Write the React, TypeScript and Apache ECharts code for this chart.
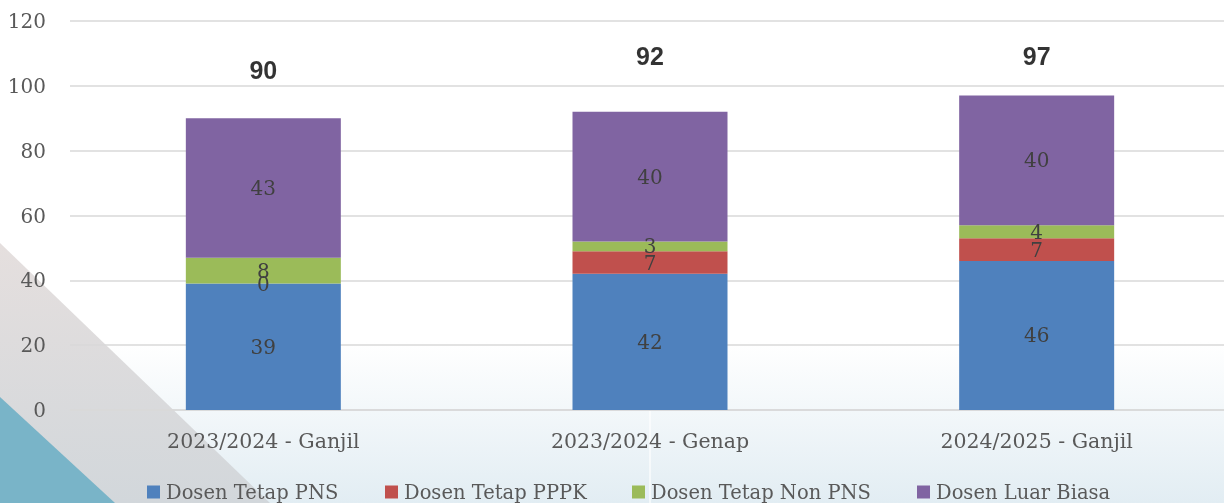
import React, { useEffect, useRef } from "react";
import * as echarts from "echarts";

const categories = ["2023/2024 - Ganjil", "2023/2024 - Genap", "2024/2025 - Ganjil"];
const seriesNames = ["Dosen Tetap PNS", "Dosen Tetap PPPK", "Dosen Tetap Non PNS", "Dosen Luar Biasa"];
const pns = [39, 42, 46];
const pppk = [0, 7, 7];
const nonPns = [8, 3, 4];
const luarBiasa = [43, 40, 40];
const totals = [90, 92, 97];
const yMin = 0;
const yMax = 120;
const yInterval = 20;

const colors = ["#4F81BD", "#C0504D", "#9BBB59", "#8064A2"];
const legendLefts = [147, 385, 632, 917];
const totalLabelDistance = [36, 43, 27];
const serif = "'DejaVu Serif', serif";

export default function App() {
  const ref = useRef<HTMLDivElement>(null);
  useEffect(() => {
    if (!ref.current) return;
    const chart = echarts.init(ref.current, null, { renderer: "svg" });
    const values = [pns, pppk, nonPns, luarBiasa];
    const barSeries = values.map((vals, i) => ({
      name: seriesNames[i],
      type: "bar",
      stack: "total",
      barWidth: 155,
      data: vals,
      itemStyle: { color: colors[i] },
      label: {
        show: true,
        position: "inside",
        color: "#404040",
        fontFamily: serif,
        fontSize: 20,
      },
      z: 3,
    }));
    const option = {
      animation: false,
      backgroundColor: "transparent",
      graphic: [
        {
          type: "rect",
          z: -100,
          shape: { x: 0, y: 0, width: 1232, height: 503 },
          style: {
            fill: new echarts.graphic.LinearGradient(0, 0, 0, 1, [
              { offset: 0, color: "#ffffff" },
              { offset: 0.68, color: "#ffffff" },
              { offset: 1, color: "#e2edf3" },
            ]),
          },
        },
        {
          type: "line",
          z: -99,
          shape: { x1: 650, y1: 411, x2: 650, y2: 503 },
          style: { stroke: "rgba(255,255,255,0.8)", lineWidth: 1.5 },
        },
        {
          type: "polygon",
          z: -98,
          shape: { points: [[0, 243], [270, 503], [0, 503]] },
          style: {
            fill: new echarts.graphic.LinearGradient(0, 0, 0, 1, [
              { offset: 0, color: "#e5dfde" },
              { offset: 1, color: "#d2d7db" },
            ]),
          },
        },
        {
          type: "polygon",
          z: -97,
          shape: { points: [[0, 397], [115, 503], [0, 503]] },
          style: { fill: "#79b4c8" },
        },
      ],
      grid: { left: 70, top: 21, right: 2, bottom: 93, containLabel: false },
      legend: seriesNames.map((n, i) => ({
        data: [n],
        left: legendLefts[i],
        top: 482,
        padding: 0,
        itemWidth: 13,
        itemHeight: 13,
        itemGap: 6,
        icon: "rect",
        textStyle: { fontFamily: serif, fontSize: 19.5, color: "#595959", padding: [0, 0, 0, 1] },
      })),
      xAxis: {
        type: "category",
        data: categories,
        axisLine: { show: true, lineStyle: { color: "#d9d9d9", width: 1.5 } },
        axisTick: { show: false },
        axisLabel: { fontFamily: serif, fontSize: 20.5, color: "#595959", margin: 20 },
      },
      yAxis: {
        type: "value",
        min: yMin,
        max: yMax,
        interval: yInterval,
        axisLine: { show: false },
        axisTick: { show: false },
        splitLine: { lineStyle: { color: "#d9d9d9", width: 1.5 } },
        axisLabel: { fontFamily: serif, fontSize: 20, color: "#595959", margin: 24 },
      },
      series: [
        ...barSeries,
        {
          name: "Total",
          type: "scatter",
          symbolSize: 0,
          data: totals.map((v, i) => ({
            value: v,
            label: { distance: totalLabelDistance[i] },
          })),
          label: {
            show: true,
            position: "top",
            color: "#000000",
            fontFamily: "'Liberation Sans', Arial, sans-serif",
            fontWeight: "bold",
            fontSize: 25,
            formatter: (p: any) => String(p.value),
          },
          z: 5,
        },
      ],
    };
    chart.setOption(option as any);
    return () => chart.dispose();
  }, []);
  return (
    <div
      ref={ref}
      style={{ position: "fixed", left: 0, top: 0, width: 1232, height: 503 }}
    />
  );
}
